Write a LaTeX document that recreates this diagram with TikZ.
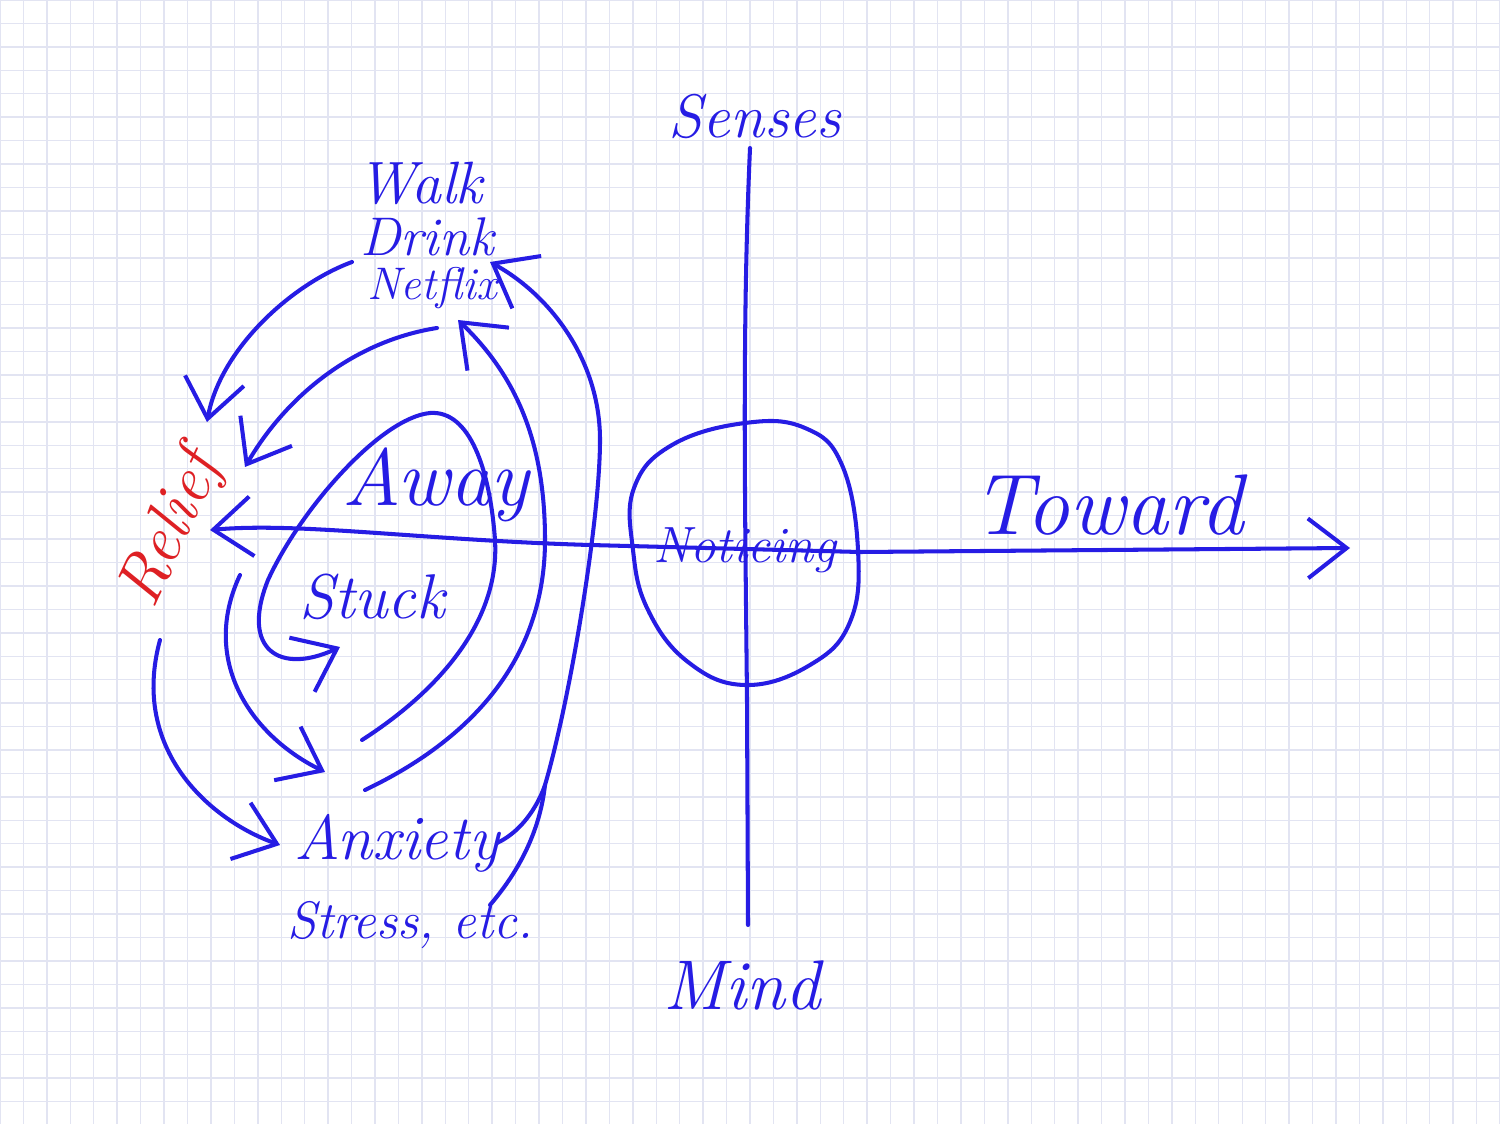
\documentclass[tikz,border=0pt]{standalone}
\usepackage{xcolor}
\usepackage{tikz}
\usetikzlibrary{arrows.meta,positioning}
\definecolor{inkblue}{RGB}{38,28,228}
\definecolor{inkred}{RGB}{222,32,36}
\definecolor{gridlav}{RGB}{226,228,242}

\begin{document}
\begin{tikzpicture}[x=0.02cm, y=-0.02cm,
  ink/.style={draw=inkblue, line width=2.3pt, line cap=round, line join=round},
  barb/.style={-{Straight Barb[length=22pt,width=34pt]}},
  bothbarb/.style={{Straight Barb[length=22pt,width=34pt]}-{Straight Barb[length=22pt,width=34pt]}},
  hand/.style={text=inkblue, font=\itshape\fontsize{#1}{#1}\selectfont, inner sep=0pt},
  gridrule/.style={draw=gridlav, line width=0.8pt}]

  % Paper
  \fill[white] (0,0) rectangle (1500,1124);
  \useasboundingbox (0,0) rectangle (1500,1124);
  \foreach \i in {0,...,64} {
    \draw[gridrule] (\i*23.4375,0) -- (\i*23.4375,1124);
  }
  \foreach \j in {0,...,48} {
    \draw[gridrule] (0,\j*23.4375) -- (1500,\j*23.4375);
  }

  % Labels
  \node[hand=35] (senses) at (755,117) {Senses};
  \node[hand=40] (mind) at (742,985) {Mind};
  \node[hand=49] (toward) at (1108,505) {Toward};
  \node[hand=46] (away) at (436,485) {Away};
  \node[hand=36] (stuck) at (372,597) {Stuck};
  \node[hand=29] (noticing) at (745,550) {Noticing};
  \node[hand=38, text=inkred, rotate=65] (relief) at (172,530) {Relief};
  \node[hand=34] (walk) at (420,183) {Walk};
  \node[hand=31] (drink) at (427,237) {Drink};
  \node[hand=26] (netflix) at (432,288) {Netflix};
  \node[hand=36] (anxiety) at (397,843) {Anxiety};
  \node[hand=30] (stress) at (410,925) {Stress, etc.};

  % Axis ends
  \coordinate (sensesfoot) at (750,148);
  \coordinate (mindtop) at (748,925);
  \coordinate (awaytip) at (210,530);
  \coordinate (towardtip) at (1350,548);

  % Senses -- Mind axis
  \draw[ink] (sensesfoot) .. controls (742,330) and (745,500) .. (747,700) -- (mindtop);

  % Away -- Toward axis
  \draw[ink, bothbarb] (awaytip) .. controls (300,522) and (420,540) .. (590,545) -- (860,552) -- (towardtip);

  % Noticing circle
  \draw[ink] plot[smooth cycle, tension=0.7] coordinates {(745,423) (805,428) (842,465) (858,550) (850,622) (810,665) (745,685) (688,662) (648,610) (633,550) (634,488) (672,445)};

  % Ends of the loops
  \coordinate (netflixout) at (352,262);
  \coordinate (netflixin) at (490,262);
  \coordinate (netflixlow) at (437,328);
  \coordinate (netflixback) at (458,320);
  \coordinate (reliefin) at (207,422);
  \coordinate (reliefside) at (245,467);
  \coordinate (reliefout) at (160,640);
  \coordinate (reliefmid) at (240,575);
  \coordinate (anxietyin) at (280,845);
  \coordinate (anxietytop) at (325,772);
  \coordinate (anxietyout) at (497,843);
  \coordinate (stressout) at (490,905);
  \coordinate (innerstart) at (362,740);
  \coordinate (midstart) at (365,790);
  \coordinate (stuckin) at (340,647);
  \coordinate (joint) at (545,785);

  % Loops towards Relief
  \draw[ink, barb] (netflixout) .. controls (290,285) and (220,350) .. (reliefin);
  \draw[ink, barb] (netflixlow) .. controls (360,340) and (290,390) .. (reliefside);
  \draw[ink, barb] (reliefout) .. controls (130,750) and (210,820) .. (anxietyin);
  \draw[ink, barb] (reliefmid) .. controls (200,660) and (250,735) .. (anxietytop);

  % Spiral round Away and Stuck
  \draw[ink, barb] (innerstart) .. controls (440,690) and (500,620) .. (495,540)
    .. controls (490,470) and (470,410) .. (430,413)
    .. controls (380,418) and (300,510) .. (268,580)
    .. controls (240,650) and (280,675) .. (stuckin);
  \draw[ink, barb] (midstart) .. controls (470,740) and (545,660) .. (545,540)
    .. controls (545,440) and (515,375) .. (netflixback);
  \draw[ink, barb] (anxietyout) .. controls (525,830) and (540,800) .. (joint)
    .. controls (570,700) and (600,520) .. (600,440)
    .. controls (600,360) and (550,295) .. (netflixin);
  \draw[ink] (stressout) .. controls (520,870) and (540,830) .. (joint);

\end{tikzpicture}
\end{document}
